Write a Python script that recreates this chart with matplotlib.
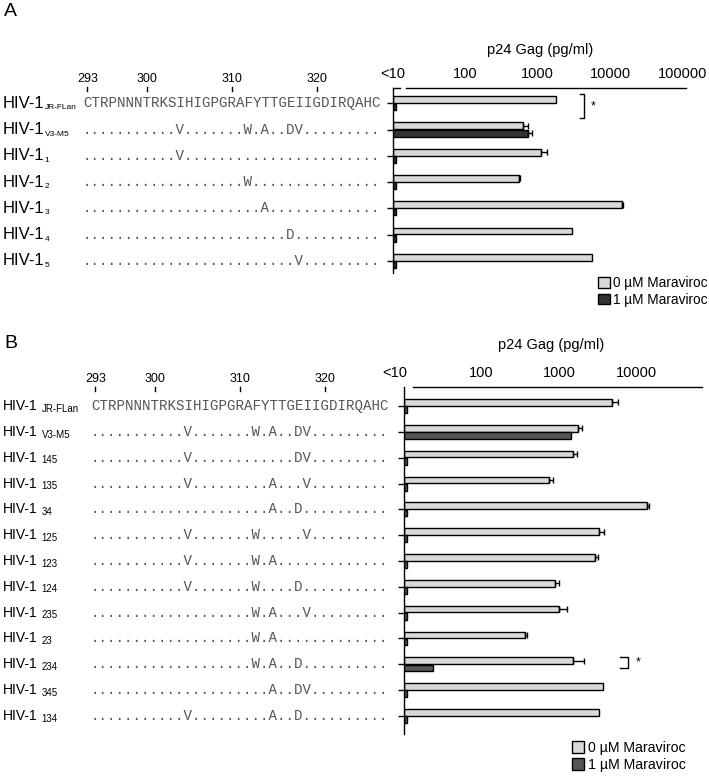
import matplotlib.pyplot as plt
import matplotlib.transforms as mtransforms
from matplotlib.lines import Line2D
from matplotlib.patches import Patch

plt.rcParams['font.family'] = ['Liberation Sans', 'DejaVu Sans']

W, H = 709, 776

# ---- panel A data ----
a_names = ['JR-FLan', 'V3-M5', '1', '2', '3', '4', '5']
a_seqs = ['CTRPNNNTRKSIHIGPGRAFYTTGEIIGDIRQAHC',
          '...........V.......W.A..DV.........',
          '...........V.......................',
          '...................W...............',
          '.....................A.............',
          '........................D..........',
          '.........................V.........']
a_p24_0 = [1800, 630, 1120, 555, 14600, 3000, 5600]
a_err_0 = [0, 110, 230, 25, 300, 0, 0]
a_p24_1 = [11, 740, 11, 11, 11, 11, 11]
a_err_1 = [0, 90, 0, 0, 0, 0, 0]

# ---- panel B data ----
b_names = ['JR-FLan', 'V3-M5', '145', '135', '34', '125', '123', '124',
           '235', '23', '234', '345', '134']
b_seqs = ['CTRPNNNTRKSIHIGPGRAFYTTGEIIGDIRQAHC',
          '...........V.......W.A..DV.........',
          '...........V............DV.........',
          '...........V.........A...V.........',
          '.....................A..D..........',
          '...........V.......W.....V.........',
          '...........V.......W.A.............',
          '...........V.......W....D..........',
          '...................W.A...V.........',
          '...................W.A.............',
          '...................W.A..D..........',
          '.....................A..DV.........',
          '...........V.........A..D..........']
b_p24_0 = [4800, 1760, 1510, 740, 13600, 3300, 2900, 890, 1000, 365, 1510, 3700, 3300]
b_err_0 = [900, 220, 190, 90, 900, 550, 300, 110, 260, 20, 590, 0, 0]
b_p24_1 = [11, 1430, 11, 11, 11, 11, 11, 11, 11, 11, 24, 11, 11]
b_err_1 = [0] * 13

positions = [293, 300, 310, 320]
legend_labels = ['0 µM Maraviroc', '1 µM Maraviroc']


def fx(px):
    return px / W


def fy(py):
    return 1 - py / H


def draw_panel(fig, g, names, seqs, v0, e0, v1, e1, dark, xticks):
    ax = fig.add_axes([fx(g['left']), fy(g['bottom']),
                       fx(g['right'] - g['left']), (g['bottom'] - g['top']) / H])
    ax.set_xscale('log')
    ax.set_xlim(10, g['xmax'])
    ax.set_ylim(g['ylim'])
    rows = list(range(len(names)))
    off, hgt = 0.14, 0.26

    y0 = [r - off for r in rows]
    y1 = [r + off for r in rows]
    ax.barh(y0, [v - 10 for v in v0], left=10, height=hgt,
            color='#d9d9d9', edgecolor='black', linewidth=1)
    ax.barh(y1, [v - 10 for v in v1], left=10, height=hgt,
            color=dark, edgecolor='black', linewidth=1)
    for ys, vs, es in [(y0, v0, e0), (y1, v1, e1)]:
        idx = [i for i, e in enumerate(es) if e > 0]
        ax.errorbar([vs[i] for i in idx], [ys[i] for i in idx],
                    xerr=[[0] * len(idx), [es[i] for i in idx]],
                    fmt='none', ecolor='black', elinewidth=1, capsize=2, capthick=1)

    # axes styling
    for s in ['right', 'bottom', 'top']:
        ax.spines[s].set_visible(False)
    ax.spines['left'].set_linewidth(1)
    ax.set_yticks(rows)
    ax.set_yticklabels([])
    ax.tick_params(axis='y', length=4, width=1, direction='out')
    ax.xaxis.tick_top()
    ax.set_xticks(xticks)
    ax.set_xticklabels([str(t) for t in xticks], fontsize=10.5)
    ax.xaxis.set_minor_locator(plt.NullLocator())
    ax.tick_params(axis='x', length=0, pad=5)
    ytop = g['ylim'][1]
    ax.plot([g['line_start'], g['xmax']], [ytop, ytop], color='black', lw=1, clip_on=False)
    if g.get('dash'):
        ax.plot([10, g['dash']], [ytop, ytop], color='black', lw=1, clip_on=False)
    ax.annotate('<10', xy=(10, ytop), xytext=(g['lt10_dx'], 5), textcoords='offset points',
                ha='center', va='bottom', fontsize=10.5)

    # left labels and sequences
    blend = mtransforms.blended_transform_factory(fig.transFigure, ax.transData)
    cw = 0.6 * g['seq_fs'] * 100 / 72
    for r, (n, s) in enumerate(zip(names, seqs)):
        t = fig.text(fx(3), r, 'HIV-1', transform=blend, fontsize=g['name_fs'], va='center')
        ax.annotate(n, xy=(1, 0), xycoords=t, xytext=(g['sub_gap'], 1),
                    textcoords='offset points', fontsize=g['sub_fs'], va='baseline')
        fig.text(fx(g['seq_x']), r, s, transform=blend, family='Liberation Mono',
                 fontsize=g['seq_fs'], va='center', color='#555555')
    for p in positions:
        xc = g['seq_x'] + cw * (p - 293 + 0.5)
        fig.text(fx(xc), fy(g['num_y']), str(p), ha='center', va='center', fontsize=9)
        fig.add_artist(Line2D([fx(xc), fx(xc)], [fy(g['num_y'] + 8), fy(g['num_y'] + 12)],
                              color='black', lw=1))

    fig.text(fx(g['p24'][0]), fy(g['p24'][1]), 'p24 Gag (pg/ml)', ha='center',
             va='center', fontsize=10.5)
    fig.text(fx(4), fy(g['panel_y']), g['panel'], ha='left', va='center', fontsize=14)

    handles = [Patch(facecolor='#d9d9d9', edgecolor='black'),
               Patch(facecolor=dark, edgecolor='black')]
    ax.legend(handles, legend_labels, loc='upper left',
              bbox_to_anchor=(fx(g['leg'][0]), fy(g['leg'][1])),
              bbox_transform=fig.transFigure, frameon=False, fontsize=g['leg_fs'],
              handlelength=0.85, handleheight=0.85, handletextpad=0.25,
              labelspacing=0.2, borderpad=0, borderaxespad=0)

    # significance bracket
    bx0, bx1, by0, by1, brow = g['bracket']
    ax.plot([bx0, bx1, bx1, bx0], [brow + by0, brow + by0, brow + by1, brow + by1],
            color='black', lw=1, clip_on=False)
    ax.text(bx1 * 1.25, brow + (by0 + by1) / 2, '*', ha='left', va='center', fontsize=9)
    return ax


fig = plt.figure(figsize=(W / 100, H / 100), dpi=100)

geom_a = dict(left=392.5, right=686, top=88, bottom=273, xmax=1.12e5, ylim=(6.46, -0.58),
              line_start=15.4, dash=12.7, lt10_dx=0, seq_x=83, seq_fs=10.2,
              name_fs=12, sub_fs=6, sub_gap=0, num_y=79, p24=(540, 50),
              panel='A', panel_y=12, leg=(598, 276), leg_fs=9.8,
              bracket=(3860, 4370, -0.35, 0.58, 0))
geom_b = dict(left=404, right=702, top=387, bottom=734, xmax=7.0e4, ylim=(12.7, -0.74),
              line_start=13.1, dash=None, lt10_dx=-7, seq_x=91, seq_fs=10.2,
              name_fs=10, sub_fs=7, sub_gap=3, num_y=379, p24=(551, 345),
              panel='B', panel_y=343, leg=(572, 741), leg_fs=10.2,
              bracket=(6200, 7750, -0.27, 0.16, 10))

draw_panel(fig, geom_a, a_names, a_seqs, a_p24_0, a_err_0, a_p24_1, a_err_1,
           '#333333', [100, 1000, 10000, 100000])
draw_panel(fig, geom_b, b_names, b_seqs, b_p24_0, b_err_0, b_p24_1, b_err_1,
           '#555555', [100, 1000, 10000])

fig.savefig('out.png', dpi=100)
